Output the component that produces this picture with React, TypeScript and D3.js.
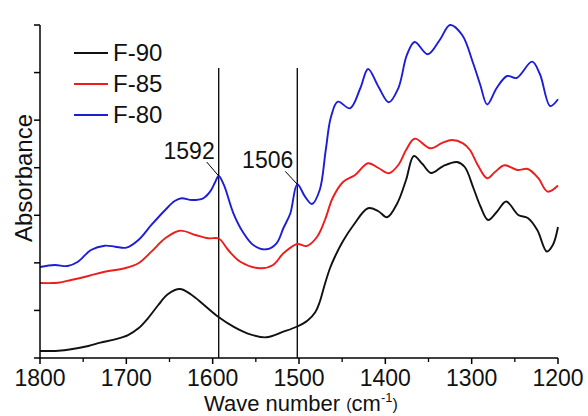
import React from "react";
import * as d3 from "d3";

// Wavenumber (cm-1) and absorbance (arbitrary, offset) values
const f90Wave = [1800, 1779, 1764, 1744, 1730, 1713, 1698, 1686, 1675, 1663, 1652, 1638, 1625, 1610, 1594, 1576, 1560, 1538, 1518, 1502, 1490, 1481, 1476, 1470, 1464, 1458, 1449, 1437, 1420, 1408, 1398, 1386, 1376, 1367, 1357, 1347, 1333, 1317, 1308, 1298, 1290, 1281, 1271, 1260, 1246, 1235, 1224, 1213, 1206, 1200];
const f90Abs = [0.147, 0.153, 0.183, 0.252, 0.322, 0.393, 0.483, 0.624, 0.835, 1.114, 1.339, 1.45, 1.335, 1.114, 0.872, 0.658, 0.519, 0.435, 0.553, 0.662, 0.788, 0.967, 1.177, 1.556, 1.892, 2.144, 2.46, 2.791, 3.148, 3.085, 2.958, 3.258, 3.742, 4.246, 4.078, 3.889, 4.036, 4.12, 4.015, 3.574, 3.195, 2.901, 3.069, 3.29, 3.006, 2.943, 2.691, 2.239, 2.375, 2.754];

const f85Wave = [1800, 1779, 1764, 1744, 1725, 1702, 1686, 1671, 1655, 1638, 1620, 1605, 1593, 1582, 1568, 1545, 1530, 1518, 1502, 1491, 1479, 1470, 1461, 1449, 1435, 1420, 1408, 1396, 1385, 1376, 1366, 1348, 1334, 1323, 1310, 1302, 1293, 1282, 1273, 1262, 1247, 1235, 1223, 1212, 1200];
const f85Abs = [1.577, 1.583, 1.64, 1.724, 1.814, 1.886, 1.991, 2.235, 2.516, 2.676, 2.586, 2.516, 2.512, 2.27, 2.024, 1.886, 1.955, 2.201, 2.396, 2.354, 2.55, 2.901, 3.363, 3.7, 3.847, 4.093, 3.994, 3.883, 4.057, 4.372, 4.61, 4.408, 4.52, 4.583, 4.513, 4.372, 4.057, 3.778, 3.91, 4.051, 3.952, 3.973, 3.784, 3.496, 3.626];

const f80Wave = [1800, 1783, 1768, 1756, 1741, 1725, 1713, 1700, 1686, 1671, 1655, 1644, 1636, 1624, 1611, 1603, 1597, 1593, 1587, 1576, 1565, 1553, 1538, 1526, 1518, 1510, 1502, 1493, 1485, 1476, 1469, 1463, 1455, 1441, 1429, 1420, 1408, 1396, 1385, 1375, 1366, 1351, 1337, 1325, 1311, 1298, 1290, 1282, 1271, 1259, 1248, 1230, 1221, 1209, 1200];
const f80Abs = [1.913, 1.955, 1.934, 2.024, 2.27, 2.361, 2.34, 2.319, 2.481, 2.796, 3.111, 3.3, 3.357, 3.321, 3.357, 3.496, 3.7, 3.826, 3.637, 3.042, 2.649, 2.375, 2.285, 2.411, 2.733, 3.042, 3.651, 3.391, 3.237, 3.532, 4.372, 5.066, 5.388, 5.249, 5.67, 6.075, 5.703, 5.375, 5.67, 6.37, 6.643, 6.384, 6.685, 7.0, 6.79, 6.18, 5.739, 5.329, 5.676, 5.928, 5.886, 6.229, 5.97, 5.297, 5.438];

const seriesNames = ["F-90", "F-85", "F-80"];
const seriesColors = ["#111111", "#ee1c1c", "#1d1dd8"];

const xTicks = [1800, 1700, 1600, 1500, 1400, 1300, 1200];
const xMinorTicks = [1750, 1650, 1550, 1450, 1350, 1250];
const yTicks = [0, 1, 2, 3, 4, 5, 6, 7];

const markerWave = [1593, 1502];
const markerLabels = ["1592", "1506"];

const W = 588;
const H = 416;
const FONT = "'Liberation Sans', Arial, sans-serif";

export default function App() {
  const x = d3.scaleLinear().domain([1800, 1200]).range([40, 558]);
  const y = d3.scaleLinear().domain([0, 7]).range([358, 25]);

  const waves = [f90Wave, f85Wave, f80Wave];
  const abs = [f90Abs, f85Abs, f80Abs];

  const line = d3
    .line<[number, number]>()
    .x((d) => x(d[0]))
    .y((d) => y(d[1]))
    .curve(d3.curveCatmullRom.alpha(0.5));

  const paths = waves.map((ws, i) =>
    line(ws.map((w, j) => [w, abs[i][j]] as [number, number]))
  );

  const x0 = x(1800);
  const x1 = x(1200);
  const yBase = y(0);
  const yTop = y(7);

  const labelDx = [-12, -12];
  const labelDy = [-14, -13];

  return (
    <svg
      width={W}
      height={H}
      style={{ position: "absolute", left: 0, top: 0, background: "#fff" }}
      fontFamily={FONT}
    >
      <rect x={0} y={0} width={W} height={H} fill="#fff" />

      {markerWave.map((m, i) => (
        <line
          key={"mv" + i}
          x1={x(m)}
          x2={x(m)}
          y1={68}
          y2={yBase}
          stroke="#000"
          strokeWidth={1.3}
        />
      ))}

      {paths.map((p, i) => (
        <path
          key={"s" + i}
          d={p || ""}
          fill="none"
          stroke={seriesColors[i]}
          strokeWidth={1.9}
          strokeLinejoin="round"
        />
      ))}

      {markerWave.map((m, i) => {
        const px = x(m);
        const peakY = y(
          d3.max(
            f80Wave.map((w, j) => (Math.abs(w - m) < 2 ? f80Abs[j] : -1))
          ) as number
        );
        const lx = px + labelDx[i];
        const ly = peakY + labelDy[i];
        return (
          <g key={"pl" + i}>
            <line x1={lx} y1={ly} x2={px} y2={peakY} stroke="#000" strokeWidth={1} />
            <text x={lx + 8} y={ly - 3} textAnchor="end" fontSize={23} fill="#111">
              {markerLabels[i]}
            </text>
          </g>
        );
      })}

      <line x1={x0} x2={x1} y1={yBase} y2={yBase} stroke="#000" strokeWidth={1.5} />
      <line x1={x0} x2={x0} y1={yTop} y2={yBase} stroke="#000" strokeWidth={1.5} />

      {xTicks.map((t) => (
        <g key={"xt" + t}>
          <line x1={x(t)} x2={x(t)} y1={yBase} y2={yBase + 6} stroke="#000" strokeWidth={1.5} />
          <text x={x(t)} y={386} textAnchor="middle" fontSize={23} fill="#111">
            {t}
          </text>
        </g>
      ))}
      {xMinorTicks.map((t) => (
        <line key={"xm" + t} x1={x(t)} x2={x(t)} y1={yBase} y2={yBase + 4} stroke="#000" strokeWidth={1.3} />
      ))}
      {yTicks.map((t) => (
        <line key={"yt" + t} x1={x0 - 6} x2={x0} y1={y(t)} y2={y(t)} stroke="#000" strokeWidth={1.5} />
      ))}

      <text
        transform={`translate(32,178) rotate(-90)`}
        textAnchor="middle"
        fontSize={24}
        fill="#111"
      >
        Absorbance
      </text>
      <text x={204} y={411} fontSize={22} fill="#111">
        Wave number <tspan fontSize={16} dy={-1}>(</tspan>
        <tspan fontSize={22} dy={1}>cm</tspan>
        <tspan fontSize={13} dy={-9}>-1</tspan>
        <tspan fontSize={16} dy={8}>)</tspan>
      </text>

      {seriesNames.map((n, i) => (
        <g key={"lg" + i}>
          <line
            x1={74}
            x2={108}
            y1={53 + i * 31}
            y2={53 + i * 31}
            stroke={seriesColors[i]}
            strokeWidth={1.9}
          />
          <text x={113} y={61 + i * 31} fontSize={24} fill="#111">
            {n}
          </text>
        </g>
      ))}
    </svg>
  );
}
